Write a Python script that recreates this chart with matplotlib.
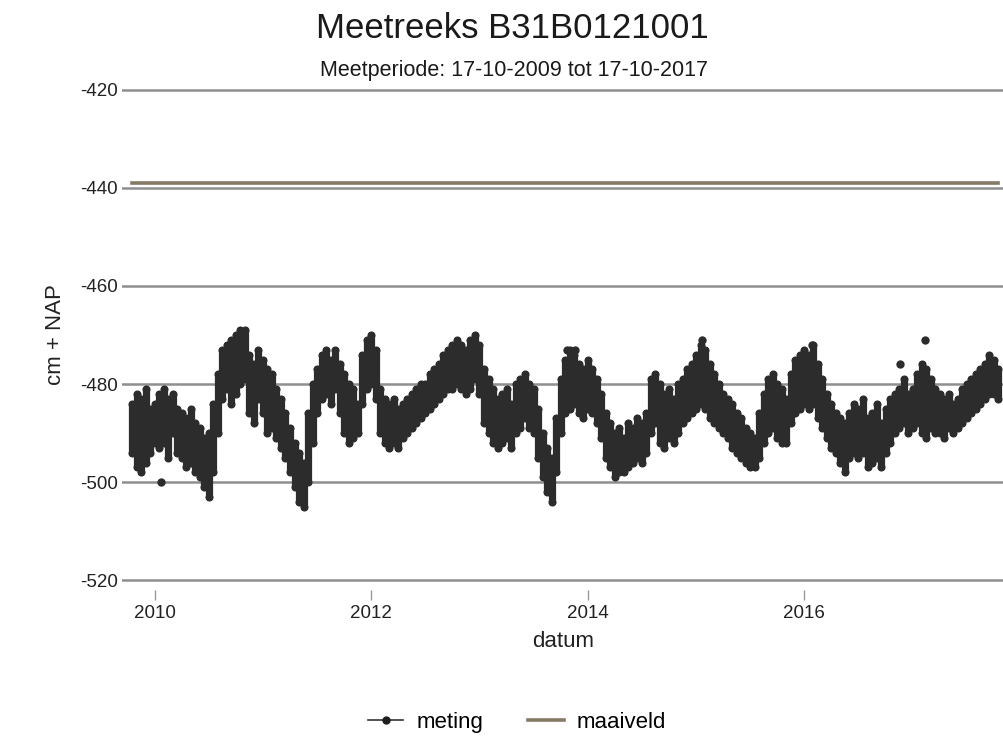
import numpy as np
import pandas as pd
import matplotlib
matplotlib.use("Agg")
import matplotlib.pyplot as plt
from matplotlib.lines import Line2D

plt.rcParams['font.family'] = ['Liberation Sans', 'DejaVu Sans']

# Half-monthly range of the groundwater readings (cm + NAP), 17-10-2009 .. 17-10-2017:
# highest and lowest reading within each half month
meting_hoog = [
    -484, -482, -483, -481, -485,                                   # 2009
    -484, -482, -481, -483, -482, -485, -486, -487, -485, -488, -489, -491,
    -490, -484, -478, -473, -472, -471, -470, -469, -469, -474, -476, -473,   # 2010
    -475, -477, -478, -481, -483, -486, -489, -492, -494, -496, -486, -480,
    -477, -474, -473, -475, -473, -476, -478, -480, -481, -484, -474, -471,   # 2011
    -470, -473, -481, -483, -484, -483, -485, -484, -483, -482, -481, -480,
    -480, -478, -477, -476, -474, -473, -472, -471, -472, -473, -471, -470,   # 2012
    -472, -477, -479, -481, -483, -482, -481, -484, -480, -479, -478, -480,
    -481, -485, -490, -493, -495, -487, -479, -475, -473, -474, -476, -477,   # 2013
    -475, -477, -479, -482, -486, -488, -490, -489, -491, -488, -489, -487,
    -488, -486, -479, -478, -480, -482, -481, -483, -480, -479, -477, -476,   # 2014
    -474, -472, -473, -476, -478, -480, -482, -483, -484, -486, -487, -489,
    -490, -491, -486, -482, -479, -478, -480, -481, -483, -478, -475, -474,   # 2015
    -473, -474, -472, -476, -479, -482, -484, -486, -487, -488, -486, -484,
    -485, -483, -487, -486, -484, -488, -485, -483, -482, -481, -479, -482,   # 2016
    -481, -478, -476, -477, -479, -481, -482, -483, -482, -484, -483, -481,
    -480, -479, -478, -477, -476, -474, -475, -477,                         # 2017
]
meting_laag = [
    -494, -497, -498, -496, -494,
    -492, -493, -492, -495, -490, -494, -495, -497, -496, -498, -499, -501,
    -503, -498, -490, -483, -481, -484, -482, -480, -479, -486, -488, -483,
    -486, -490, -489, -491, -493, -495, -498, -501, -504, -505, -500, -492,
    -486, -483, -482, -484, -481, -486, -490, -492, -491, -490, -484, -481,
    -480, -483, -490, -492, -493, -492, -493, -491, -490, -489, -488, -487,
    -486, -485, -484, -483, -482, -481, -481, -480, -481, -482, -481, -479,
    -482, -488, -490, -492, -493, -492, -491, -493, -490, -489, -487, -489,
    -490, -495, -499, -502, -504, -498, -490, -486, -485, -484, -486, -487,
    -485, -486, -488, -491, -495, -497, -499, -498, -498, -497, -496, -495,
    -496, -494, -490, -488, -492, -493, -491, -492, -490, -488, -487, -486,
    -485, -484, -485, -487, -488, -489, -490, -491, -493, -494, -495, -496,
    -497, -497, -495, -492, -490, -489, -491, -492, -492, -488, -486, -485,
    -484, -485, -484, -487, -489, -491, -493, -494, -496, -498, -495, -494,
    -495, -494, -497, -496, -495, -497, -494, -492, -490, -489, -488, -490,
    -489, -488, -490, -491, -489, -490, -490, -491, -489, -490, -489, -488,
    -487, -486, -485, -484, -483, -482, -482, -483,
]
# Isolated readings outside the half-monthly band
piek_datum = ["2010-01-24", "2013-10-22", "2013-11-18", "2015-01-20",
              "2016-01-27", "2016-11-20", "2017-02-10"]
piek_waarde = [-500, -473, -473, -471, -472, -476, -471]

maaiveld = -439
start, end = "2009-10-17", "2017-10-17"
y_ticks = [-420, -440, -460, -480, -500, -520]
x_tick_years = [2010, 2012, 2014, 2016]

datum = pd.date_range(start, end, periods=len(meting_hoog))
piek_dt = pd.to_datetime(piek_datum)

fig = plt.figure(figsize=(10.04, 7.40), dpi=100)
ax = fig.add_axes([122 / 1004, 1 - 590 / 740, (1004 - 122) / 1004, 510 / 740])

grid_col = "#8f8f8f"
for yv in y_ticks:
    ax.axhline(yv, color=grid_col, lw=1.8, zorder=1)

pt_col = "#2c2c2c"
band = ax.vlines(datum, meting_laag, meting_hoog, colors=pt_col, lw=5.2, zorder=3)
band.set_capstyle("round")
for serie in (meting_hoog, meting_laag):
    ax.plot(datum, serie, ls="none", marker="o", ms=5.8, mfc=pt_col, mec=pt_col,
            mew=0, zorder=3)
ax.plot(piek_dt, piek_waarde, ls="none", marker="o", ms=6, mfc=pt_col, mec=pt_col,
        mew=0, zorder=3)
ax.plot([datum[0], datum[-1]], [maaiveld, maaiveld], color="#857a66", lw=2.6, zorder=2)

ax.set_ylim(-522, -418)
ax.set_xlim(pd.Timestamp("2009-09-13"), pd.Timestamp("2017-11-05"))

ax.set_yticks(y_ticks)
ax.set_yticklabels([str(v) for v in y_ticks])
ax.set_xticks([pd.Timestamp(f"{y}-01-01") for y in x_tick_years])
ax.set_xticklabels([str(y) for y in x_tick_years])
ax.tick_params(axis="y", length=0, pad=3, labelsize=13.5, labelcolor="#222222")
ax.tick_params(axis="x", length=7, width=1.0, color="#9a9a9a", pad=4, labelsize=13.5,
               labelcolor="#222222")
for s in ax.spines.values():
    s.set_visible(False)
ax.set_facecolor("white")

ax.set_xlabel("datum", fontsize=16, color="#222222", labelpad=6)
ax.set_ylabel("cm + NAP", fontsize=16, color="#222222", labelpad=10)

fig.text(0.51, 0.962, "Meetreeks B31B0121001", ha="center", va="center", fontsize=25,
         color="#1a1a1a")
fig.text(0.512, 0.905, "Meetperiode: 17-10-2009 tot 17-10-2017", ha="center", va="center",
         fontsize=15.5, color="#1a1a1a")

handles = [
    Line2D([], [], color="#333333", lw=1.2, marker="o", ms=5, mfc="#1e1e1e", mec="#1e1e1e"),
    Line2D([], [], color="#857a66", lw=2.6),
]
fig.legend(handles, ["meting", "maaiveld"], loc="center", bbox_to_anchor=(0.515, 0.024),
           ncol=2, frameon=False, fontsize=16, handlelength=1.6, columnspacing=2.0,
           handletextpad=0.6)

fig.savefig("out.png", dpi=100)
